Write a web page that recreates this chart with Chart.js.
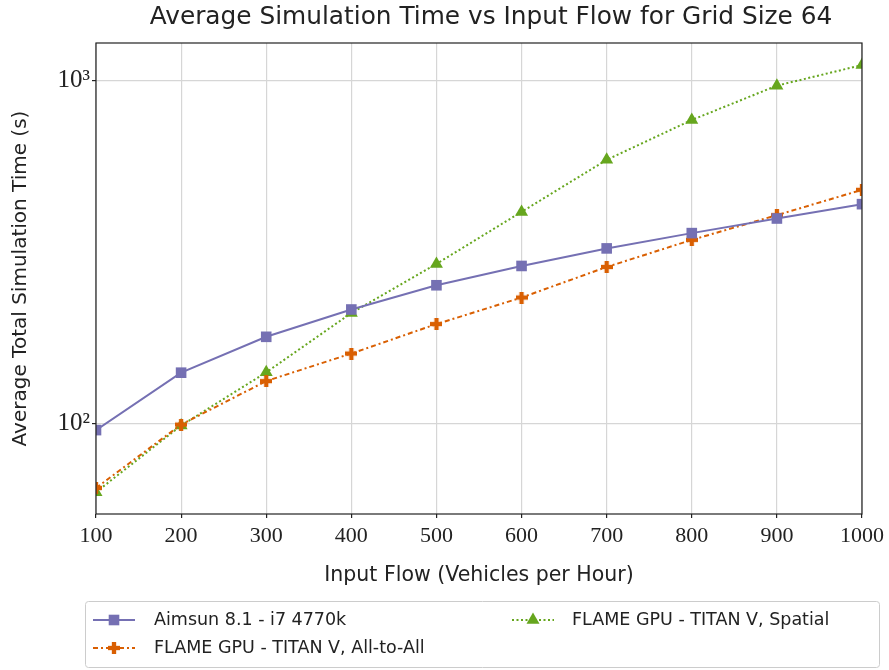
<!DOCTYPE html>
<html>
<head>
<meta charset="utf-8">
<script src="https://cdn.jsdelivr.net/npm/chart.js@4/dist/chart.umd.min.js"></script>
<style>
  html, body { margin: 0; padding: 0; background: #fff; }
  #wrap { width: 889px; height: 670px; position: relative; }
</style>
</head>
<body>
<div id="wrap"><canvas id="simChart"></canvas></div>
<script>
// Datos (escala logarítmica)
const inputFlow = [100, 200, 300, 400, 500, 600, 700, 800, 900, 1000];
const aimsunTimes = [95.7, 140.7, 179, 215, 253, 288, 324, 359, 396, 436];
const flameAllToAll = [64.9, 99.3, 133, 160, 195, 233, 286, 343, 405, 480];
const flameSpatial = [63.1, 98.7, 141, 210, 292, 414, 587, 767, 966, 1109];
const yTickValues = [100, 1000];
const yTickLabels = { 100: '10²', 1000: '10³' };

const sansFont = '"DejaVu Sans", sans-serif';
const serifFont = '"Liberation Serif", "DejaVu Serif", serif';

// Marcador "P" (cruz rellena) para FLAME All-to-All
function plusMarker(color, size) {
    const c = document.createElement('canvas');
    c.width = size; c.height = size;
    const g = c.getContext('2d');
    const t = size * 0.36;
    const o = (size - t) / 2;
    g.fillStyle = color;
    g.fillRect(o, 0, t, size);
    g.fillRect(0, o, size, t);
    return c;
}
const orangePlus = plusMarker('#d95f02', 12);

function toPoints(values) {
    return inputFlow.map((x, i) => ({ x: x, y: values[i] }));
}

// Borde completo alrededor del área del gráfico
const frameBorder = {
    id: 'frameBorder',
    afterDatasetsDraw(chart) {
        const a = chart.chartArea;
        const c = chart.ctx;
        c.save();
        c.strokeStyle = '#222';
        c.lineWidth = 1.2;
        c.strokeRect(a.left, a.top, a.right - a.left, a.bottom - a.top);
        c.restore();
    }
};

// Título centrado sobre el área de datos
const topTitle = {
    id: 'topTitle',
    afterDraw(chart) {
        const a = chart.chartArea;
        const c = chart.ctx;
        c.save();
        c.fillStyle = '#222';
        c.font = '24.8px ' + sansFont;
        c.textAlign = 'center';
        c.textBaseline = 'middle';
        c.fillText('Average Simulation Time vs Input Flow for Grid Size 64', (a.left + a.right) / 2 + 12, 18);
        c.restore();
    }
};

// Leyenda en caja, dos columnas como matplotlib
const boxLegend = {
    id: 'boxLegend',
    afterDraw(chart) {
        const c = chart.ctx;
        const ds = chart.data.datasets;
        const slots = [
            { x: 93, y: 620, tx: 154 },
            { x: 93, y: 648, tx: 154 },
            { x: 512, y: 620, tx: 572 }
        ];
        c.save();
        c.strokeStyle = '#cccccc';
        c.lineWidth = 1;
        c.beginPath();
        c.roundRect(85.5, 601.5, 794, 66, 3);
        c.stroke();
        ds.forEach((d, i) => {
            const s = slots[i];
            c.strokeStyle = d.borderColor;
            c.lineWidth = d.borderWidth;
            c.setLineDash(d.borderDash || []);
            c.beginPath();
            c.moveTo(s.x, s.y);
            c.lineTo(s.x + 42, s.y);
            c.stroke();
            c.setLineDash([]);
            c.fillStyle = d.pointBackgroundColor;
            Chart.helpers.drawPoint(c, {
                pointStyle: d.pointStyle,
                radius: d.pointRadius,
                rotation: 0,
                borderWidth: 0
            }, s.x + 21, s.y);
            c.fillStyle = '#222';
            c.font = '17.5px ' + sansFont;
            c.textAlign = 'left';
            c.textBaseline = 'middle';
            c.fillText(d.label, s.tx, s.y);
        });
        c.restore();
    }
};

const ctx = document.getElementById('simChart');
const simChart = new Chart(ctx.getContext('2d'), {
    type: 'line',
    data: {
        datasets: [{
            label: 'Aimsun 8.1 - i7 4770k',
            data: toPoints(aimsunTimes),
            borderColor: '#7570b3',
            backgroundColor: '#7570b3',
            pointBackgroundColor: '#7570b3',
            pointBorderWidth: 0,
            borderWidth: 2,
            pointStyle: 'rect',
            pointRadius: 7.5,
            clip: 0
        }, {
            label: 'FLAME GPU - TITAN V, All-to-All',
            data: toPoints(flameAllToAll),
            borderColor: '#d95f02',
            backgroundColor: '#d95f02',
            pointBackgroundColor: '#d95f02',
            pointBorderWidth: 0,
            borderWidth: 2,
            borderDash: [5, 3, 2, 3],
            pointStyle: orangePlus,
            pointRadius: 6,
            clip: 0
        }, {
            label: 'FLAME GPU - TITAN V, Spatial',
            data: toPoints(flameSpatial),
            borderColor: '#66a61e',
            backgroundColor: '#66a61e',
            pointBackgroundColor: '#66a61e',
            pointBorderWidth: 0,
            borderWidth: 2,
            borderDash: [2, 2.5],
            pointStyle: 'triangle',
            pointRadius: 7.5,
            clip: 0
        }]
    },
    options: {
        responsive: true,
        maintainAspectRatio: false,
        animation: false,
        layout: {
            padding: { top: 43, right: 27, bottom: 76, left: 0 }
        },
        plugins: {
            legend: { display: false },
            tooltip: { enabled: false },
            title: { display: false }
        },
        scales: {
            x: {
                type: 'linear',
                min: 100,
                max: 1000,
                afterFit: function(scale) { scale.height = 80; },
                ticks: {
                    stepSize: 100,
                    color: '#222',
                    padding: 5,
                    maxRotation: 0,
                    font: { family: serifFont, size: 22 },
                    callback: function(value) { return String(value); }
                },
                grid: {
                    color: '#d6d6d6',
                    lineWidth: 1.2,
                    tickLength: 4,
                    tickColor: '#222'
                },
                border: { display: false },
                title: {
                    display: true,
                    text: 'Input Flow (Vehicles per Hour)',
                    color: '#222',
                    font: { family: sansFont, size: 20.5 },
                    padding: { top: 0, bottom: 6 }
                }
            },
            y: {
                type: 'logarithmic',
                min: 54.5,
                max: 1286,
                afterFit: function(scale) { scale.width = 96; },
                afterBuildTicks: function(scale) {
                    scale.ticks = yTickValues.map(v => ({ value: v, major: true }));
                },
                ticks: {
                    color: '#222',
                    padding: 2,
                    font: { family: serifFont, size: 25 },
                    callback: function(value) {
                        return yTickLabels[value] || '';
                    }
                },
                grid: {
                    color: '#d6d6d6',
                    lineWidth: 1.2,
                    tickLength: 4,
                    tickColor: '#222'
                },
                border: { display: false },
                title: {
                    display: true,
                    text: 'Average Total Simulation Time (s)',
                    color: '#222',
                    font: { family: sansFont, size: 20 },
                    padding: { top: 9, bottom: 0 }
                }
            }
        }
    },
    plugins: [frameBorder, topTitle, boxLegend]
});
</script>
</body>
</html>
